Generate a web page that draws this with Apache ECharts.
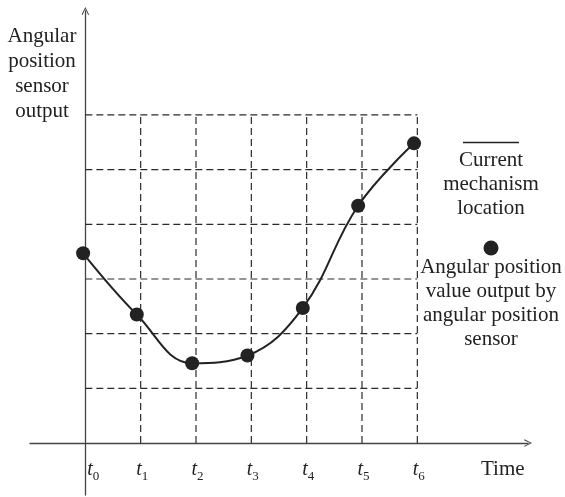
<!DOCTYPE html>
<html>
<head>
<meta charset="utf-8">
<script src="https://cdn.jsdelivr.net/npm/echarts@6/dist/echarts.min.js"></script>
<style>
html,body{margin:0;padding:0;background:#fff;}
#c{width:565px;height:497px;}
</style>
</head>
<body>
<div id="c"></div>
<script>
// ---- data ----
var timeTicks = [0, 1, 2, 3, 4, 5, 6];
var tickLabels = ['0', '1', '2', '3', '4', '5', '6'];
var levelLines = [1, 2, 3, 4, 5, 6];
var sampleTimes = [-0.04, 0.93, 1.93, 2.93, 3.93, 4.93, 5.94];
var sensorOutput = [3.47, 2.35, 1.46, 1.60, 2.47, 4.34, 5.48];
var gridMaxX = 6;
var gridMaxY = 6;

var FONT = '"Liberation Serif", "Times New Roman", serif';
var INK = '#222';
var LINE = '#2a2a2a';

var chart = echarts.init(document.getElementById('c'), null, {renderer: 'canvas'});

var dashStyle = {color: LINE, width: 1.2, type: [7, 4]};
var series = [];
levelLines.forEach(function (k) {
  series.push({
    type: 'line', silent: true, symbol: 'none', animation: false,
    lineStyle: dashStyle, z: 1,
    data: [[0, k], [gridMaxX, k]]
  });
});
timeTicks.slice(1).forEach(function (t) {
  series.push({
    type: 'line', silent: true, symbol: 'none', animation: false,
    lineStyle: dashStyle, z: 1,
    data: [[t, 0], [t, gridMaxY]]
  });
});
series.push({
  type: 'line', smooth: 0.4, animation: false, z: 5,
  symbol: 'circle', symbolSize: 14,
  itemStyle: {color: '#222'},
  lineStyle: {color: '#222', width: 2},
  data: sampleTimes.map(function (t, i) { return [t, sensorOutput[i]]; })
});

var arrow = 'path://M0,10 L5,0 L10,10 L8.8,10.7 L5,2.6 L1.2,10.7 Z';

chart.setOption({
  animation: false,
  grid: {left: 30, right: 37, top: 11, bottom: 2, containLabel: false, outerBoundsMode: 'none'},
  xAxis: {
    type: 'value', min: -1, max: 8, interval: 1,
    splitLine: {show: false},
    axisTick: {show: false},
    axisLine: {
      show: true, onZero: true,
      lineStyle: {color: '#444', width: 1.3},
      symbol: ['none', arrow], symbolSize: [13, 8]
    },
    axisLabel: {
      margin: -35,
      hideOverlap: false,
      formatter: function (v) {
        var i = timeTicks.indexOf(v);
        if (i < 0) return '';
        return (i === 0 ? '{p|}' : '{q|}') + '{i|t}{s|' + tickLabels[i] + '}';
      },
      rich: {
        p: {width: 16},
        q: {width: 3},
        i: {fontFamily: FONT, fontStyle: 'italic', fontSize: 20, color: INK, verticalAlign: 'bottom'},
        s: {fontFamily: FONT, fontSize: 13, color: INK, verticalAlign: 'bottom', padding: [0, 0, -3, 0]}
      }
    }
  },
  yAxis: {
    type: 'value', min: -0.95, max: 7.9,
    splitLine: {show: false},
    axisTick: {show: false},
    axisLabel: {show: false},
    axisLine: {
      show: true, onZero: true,
      lineStyle: {color: '#444', width: 1.3},
      symbol: ['none', arrow], symbolSize: [13, 8]
    }
  },
  series: series,
  graphic: [
    {type: 'text', x: 42, y: 24, style: {
      text: 'Angular\nposition\nsensor\noutput', align: 'center', verticalAlign: 'top',
      font: '21px ' + FONT, fill: INK, lineHeight: 25}},
    {type: 'text', x: 481, y: 459, style: {
      text: 'Time', verticalAlign: 'top', font: '21px ' + FONT, fill: INK}},
    {type: 'line', shape: {x1: 463, y1: 142.5, x2: 519, y2: 142.5},
      style: {stroke: '#222', lineWidth: 1.4}},
    {type: 'text', x: 491, y: 148, style: {
      text: 'Current\nmechanism\nlocation', align: 'center', verticalAlign: 'top',
      font: '21px ' + FONT, fill: INK, lineHeight: 24}},
    {type: 'circle', shape: {cx: 491, cy: 248, r: 7.5}, style: {fill: '#222'}},
    {type: 'text', x: 491, y: 255, style: {
      text: 'Angular position\nvalue output by\nangular position\nsensor', align: 'center', verticalAlign: 'top',
      font: '21px ' + FONT, fill: INK, lineHeight: 24}}
  ]
});
</script>
</body>
</html>
